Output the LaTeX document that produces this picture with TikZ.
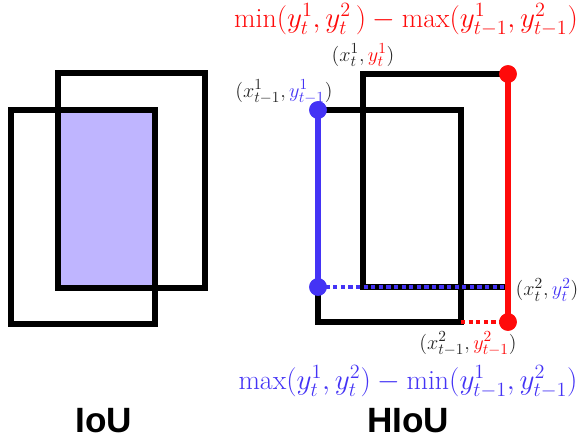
\documentclass[tikz,border=0pt]{standalone}
\usepackage{amsmath}
\usepackage{fontspec}
\usepackage{tikz}
\usetikzlibrary{positioning}
\newfontfamily\titlefont{Liberation Sans}
\definecolor{Rojo}{HTML}{FF0A0A}
\definecolor{Azul}{HTML}{4433F5}
\definecolor{Lila}{HTML}{BFB5FF}
\definecolor{Tinta}{HTML}{262626}
\tikzset{
  caja/.style={draw=black,line width=3.6pt,line join=miter},
  punto/.style={circle,inner sep=0pt,minimum size=12.5pt},
  trazo/.style={line width=4.6pt},
  punteado/.style={line width=3.4pt,dash pattern=on 3pt off 2.4pt},
  coord/.style={font=\fontsize{15.5}{17}\selectfont,text=Tinta,inner sep=1pt},
  formula/.style={font=\fontsize{19.8}{22}\selectfont,inner sep=1pt},
  titulo/.style={font=\fontsize{25}{28}\selectfont\titlefont\bfseries}
}
\begin{document}
\begin{tikzpicture}
  \useasboundingbox (0,0) rectangle (14.475,11.1);

  % IoU: interseccion rellena y dos cajas
  \fill[Lila] (1.45,3.9) rectangle (3.875,8.35);
  \draw[caja] (1.45,3.9) rectangle (5.125,9.275);
  \draw[caja] (0.275,3.0) rectangle (3.875,8.35);
  \node[titulo] (iou) at (2.6,0.575) {IoU};

  % HIoU: cajas en t y t-1
  \draw[caja] (9.075,3.925) rectangle (12.7,9.25);
  \draw[caja] (7.95,3.05) rectangle (11.525,8.35);
  \coordinate (esq) at (11.525,3.05);
  \coordinate (fin) at (12.6,3.925);

  \node[punto,fill=Azul] (b1) at (7.95,8.35) {};
  \node[punto,fill=Azul] (b2) at (7.95,3.925) {};
  \node[punto,fill=Rojo] (r1) at (12.7,9.25) {};
  \node[punto,fill=Rojo] (r2) at (12.7,3.05) {};

  \draw[punteado,Azul] (b2.center) -- (fin);
  \draw[punteado,Rojo] (esq) -- (r2.center);
  \draw[trazo,Azul] (b1.center) -- (b2.center);
  \draw[trazo,Rojo] (r1.center) -- (r2.center);
  \node[punto,fill=Azul] at (b1) {};
  \node[punto,fill=Azul] at (b2) {};
  \node[punto,fill=Rojo] at (r1) {};
  \node[punto,fill=Rojo] at (r2) {};

  % etiquetas de esquinas
  \node[coord] (p1) at (9.075,9.72) {$(x_t^1,\textcolor{Rojo}{y_t^1})$};
  \node[coord] (p2) at (7.1,8.8) {$(x_{t-1}^1,\textcolor{Azul}{y_{t-1}^1})$};
  \node[coord,anchor=west] (p3) at (12.85,3.85) {$(x_t^2,\textcolor{Azul}{y_t^2})$};
  \node[coord] (p4) at (11.7,2.5) {$(x_{t-1}^2,\textcolor{Rojo}{y_{t-1}^2})$};

  \node[formula,text=Rojo] (sup) at (10.15,10.6)
    {$\min(y_t^1,y_t^2\,)-\max(y_{t-1}^1,y_{t-1}^2)$};
  \node[formula,text=Azul] (inf) at (10.2,1.55)
    {$\max(y_t^1,y_t^2)-\min(y_{t-1}^1,y_{t-1}^2)$};
  \node[titulo] (hiou) at (10.2,0.575) {HIoU};
\end{tikzpicture}
\end{document}
